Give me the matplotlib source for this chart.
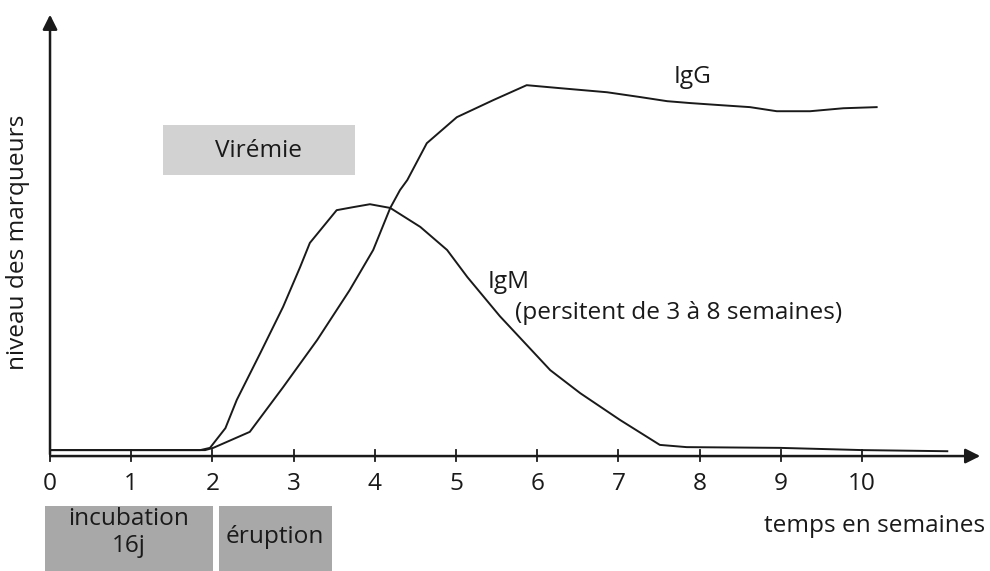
import matplotlib.pyplot as plt
from matplotlib.patches import Rectangle

plt.rcParams['font.family'] = ['Open Sans', 'DejaVu Sans']

# weeks / marker level (IgG peak ~ 100)
igm_x = [0, 1.85, 1.97, 2.16, 2.30, 2.59, 2.87, 3.08, 3.20, 3.53, 3.73, 3.94, 4.19,
         4.56, 4.89, 5.14, 5.54, 6.16, 6.53, 7.02, 7.51, 7.84, 8.99, 10.01, 11.05]
igm_y = [1.6, 1.6, 2.2, 7.5, 15.1, 27.7, 40.1, 50.8, 57.3, 66.1, 66.9, 67.7, 66.7,
         61.6, 55.4, 48.1, 37.6, 23.1, 16.9, 9.7, 3.0, 2.4, 2.2, 1.6, 1.3]
igg_x = [0, 1.91, 2.01, 2.46, 2.87, 3.29, 3.69, 3.98, 4.19, 4.31, 4.40, 4.64, 5.01,
         5.46, 5.87, 6.28, 6.86, 7.27, 7.60, 7.88, 8.21, 8.62, 8.95, 9.36, 9.77, 10.18]
igg_y = [1.6, 1.6, 2.2, 6.5, 18.5, 31.2, 44.6, 55.4, 66.7, 71.5, 74.2, 84.1, 91.1,
         95.7, 99.7, 98.9, 97.8, 96.5, 95.4, 94.9, 94.4, 93.8, 92.7, 92.7, 93.5, 93.8]
weeks = list(range(11))

txt = dict(fontsize=17.6, color='#1a1a1a')

fig = plt.figure(figsize=(9.9, 5.71), dpi=100)
ax = fig.add_axes([0, 0, 1, 1])
ax.set_xlim(-0.616, 11.576)
ax.set_ylim(-30.9, 122.6)

ax.plot(igm_x, igm_y, color='#1a1a1a', lw=1.4)
ax.plot(igg_x, igg_y, color='#1a1a1a', lw=1.4)

# axes with arrows
for s in ['top', 'right', 'left', 'bottom']:
    ax.spines[s].set_visible(False)
ax.annotate('', xy=(11.49, 0), xytext=(-0.03, 0),
            arrowprops=dict(arrowstyle='-|>', lw=1.8, color='#1a1a1a', mutation_scale=22))
ax.annotate('', xy=(0, 119.4), xytext=(0, -0.3),
            arrowprops=dict(arrowstyle='-|>', lw=1.8, color='#1a1a1a', mutation_scale=22))
for w in weeks:
    ax.plot([w, w], [-1.4, 1.6], color='#1a1a1a', lw=1.3)
    ax.text(w, -7.4, str(w), ha='center', va='center', **txt)
ax.set_xticks([])
ax.set_yticks([])

ax.text(-0.394, 57.5, 'niveau des marqueurs', rotation=90, ha='center', va='center', **txt)
ax.text(11.51, -18.8, 'temps en semaines', ha='right', va='center', **txt)

ax.text(7.91, 101.9, 'IgG', ha='center', va='center', **txt)
ax.text(5.39, 46.8, 'IgM', ha='left', va='center', **txt)
ax.text(5.73, 38.4, '(persitent de 3 à 8 semaines)', ha='left', va='center', **txt)

# phase boxes
ax.add_patch(Rectangle((1.392, 75.5), 2.364, 13.5, facecolor='#d2d2d2', edgecolor='none'))
ax.text(2.57, 82.0, 'Virémie', ha='center', va='center', **txt)
ax.add_patch(Rectangle((-0.062, -40), 2.069, 26.6, facecolor='#a8a8a8', edgecolor='none'))
ax.text(0.97, -20.6, 'incubation\n16j', ha='center', va='center', linespacing=1.2, **txt)
ax.add_patch(Rectangle((2.081, -40), 1.392, 26.6, facecolor='#a8a8a8', edgecolor='none'))
ax.text(2.77, -21.8, 'éruption', ha='center', va='center', **txt)

fig.savefig('out.png', dpi=100, facecolor='white')
